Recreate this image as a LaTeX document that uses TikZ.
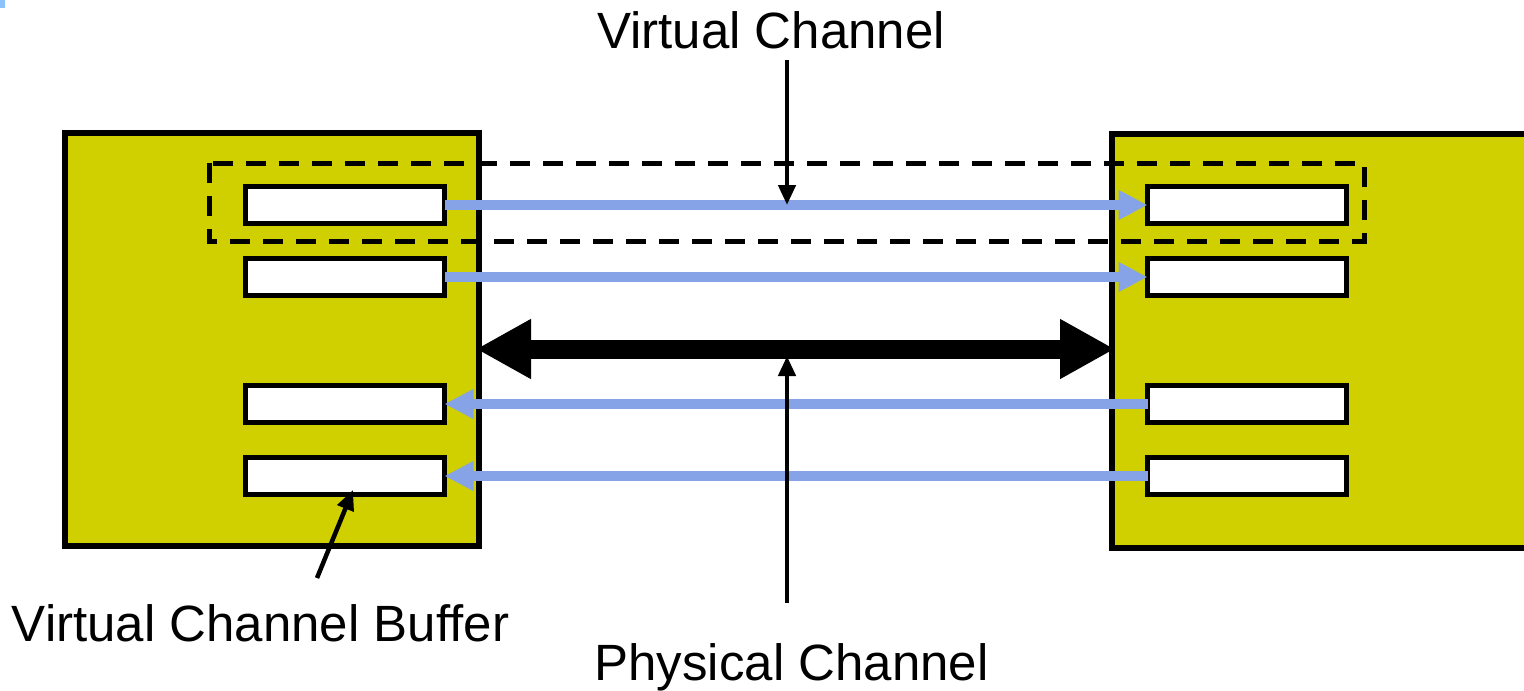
\documentclass[tikz,border=0pt]{standalone}
\usepackage{fontspec}
\setmainfont{Liberation Sans}
\usetikzlibrary{arrows.meta, positioning, calc}
\definecolor{routeryellow}{RGB}{208,208,0}
\definecolor{vcblue}{RGB}{135,163,232}
\definecolor{markblue}{RGB}{140,195,250}

\begin{document}
\begin{tikzpicture}[x=1pt,y=-1pt,outer sep=0pt,
                    font=\fontsize{51}{60}\selectfont]
  \tikzstyle{router}=[draw,fill=routeryellow,line width=6pt,inner sep=0pt,anchor=north west]
  \tikzstyle{buffer}=[draw,fill=white,line width=5pt,inner sep=0pt,anchor=west,
                      minimum width=199pt,minimum height=37pt]
  \tikzstyle{vcarrow}=[vcblue,line width=9.5pt,-{Triangle[length=29pt,width=28pt]}]
  \tikzstyle{pcarrow}=[black,line width=19pt,{Triangle[length=55pt,width=56pt]}-{Triangle[length=55pt,width=56pt]}]
  \tikzstyle{pointer}=[black,line width=4.5pt,-{Triangle[length=20pt,width=17pt]}]
  \useasboundingbox (0,0) rectangle (1524,691);

  \fill[markblue] (0,0) rectangle (5,8);

  % the two routers
  \node[router,minimum width=414pt,minimum height=413pt] (lrouter) at (65,133) {};
  \node[router,minimum width=500pt,minimum height=414pt] (rrouter) at (1112,134) {};

  % one virtual channel
  \draw[line width=5pt,dash pattern=on 20pt off 13pt] (209,163) rectangle (1364,241);

  % buffers
  \foreach \i/\y in {1/205,2/277,3/404,4/476} {
    \node[buffer] (lb\i) at (245.5,\y) {};
    \node[buffer] (rb\i) at (1147.5,\y) {};
  }
  \foreach \i in {1,2}
    \draw[vcarrow] (lb\i) -- (rb\i);
  \foreach \i in {3,4}
    \draw[vcarrow] (rb\i) -- (lb\i);

  % physical link
  \coordinate (pc) at (787,349);
  \draw[pcarrow,shorten <=-3pt,shorten >=-3pt] (lrouter.east |- pc) -- (rrouter.west |- pc);

  % labels
  \node[anchor=base] (vclabel)  at (771,48)    {Virtual Channel};
  \node[anchor=base] (vcblabel) at (260.5,641) {Virtual Channel Buffer};
  \node[anchor=base] (pclabel)  at (791.5,680) {Physical Channel};

  \coordinate (vcstart) at (787,60);
  \coordinate (vctip)   at (787,205);
  \coordinate (bstart)  at (317,578);
  \coordinate (btip)    at (353,490);
  \coordinate (pcstart) at (787,603);
  \coordinate (pctip)   at (787,356);
  \draw[pointer] (vcstart) -- (vctip);
  \draw[pointer] (bstart) -- (btip);
  \draw[pointer] (pcstart) -- (pctip);
\end{tikzpicture}
\end{document}
